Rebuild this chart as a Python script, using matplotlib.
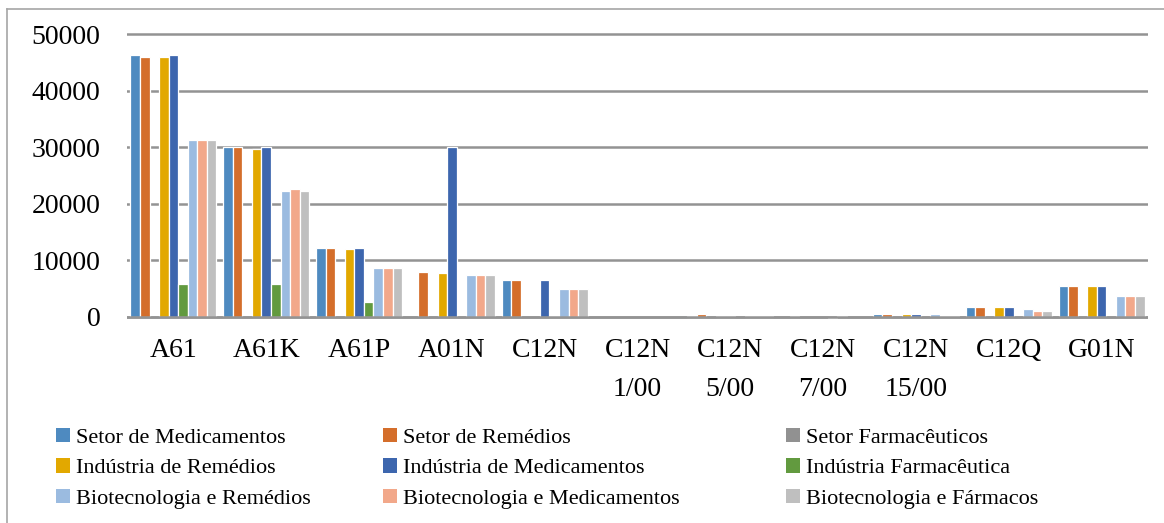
import numpy as np
import matplotlib
matplotlib.use("Agg")
import matplotlib.pyplot as plt
from matplotlib.patches import Patch
from matplotlib.lines import Line2D

categories = ["A61", "A61K", "A61P", "A01N", "C12N", "C12N\n1/00", "C12N\n5/00",
              "C12N\n7/00", "C12N\n15/00", "C12Q", "G01N"]

series_names = ["Setor de Medicamentos", "Setor de Remédios", "Setor Farmacêuticos",
                "Indústria de Remédios", "Indústria de Medicamentos", "Indústria Farmacêutica",
                "Biotecnologia e Remédios", "Biotecnologia e Medicamentos", "Biotecnologia e Fármacos"]

setor_medicamentos = [46300, 30000, 12200, 0, 6500, 0, 80, 0, 450, 1700, 5500]
setor_remedios = [45900, 30000, 12200, 8000, 6500, 0, 450, 80, 450, 1700, 5500]
setor_farmaceuticos = [0, 0, 0, 0, 0, 0, 0, 0, 0, 0, 0]
industria_remedios = [45900, 29700, 11900, 7700, 0, 0, 80, 0, 400, 1700, 5500]
industria_medicamentos = [46300, 30000, 12200, 30000, 6500, 0, 80, 0, 400, 1700, 5500]
industria_farmaceutica = [5800, 5800, 2600, 0, 80, 0, 0, -150, 0, 0, 0]
bio_remedios = [31300, 22300, 8700, 7400, 4900, 0, 80, 80, 500, 1350, 3700]
bio_medicamentos = [31300, 22600, 8700, 7400, 4900, 0, 80, 0, 80, 1000, 3700]
bio_farmacos = [31300, 22300, 8700, 7400, 4900, 0, 80, 0, 80, 1000, 3700]

series_values = [setor_medicamentos, setor_remedios, setor_farmaceuticos,
                 industria_remedios, industria_medicamentos, industria_farmaceutica,
                 bio_remedios, bio_medicamentos, bio_farmacos]

colors = ["#4E8AC0", "#D46E2B", "#919191", "#E2A800", "#3D66AE", "#629A3F",
          "#9BBBE0", "#F2A88A", "#BFBFBF"]

yticks = [0, 10000, 20000, 30000, 40000, 50000]

W, H = 1164, 523
fig = plt.figure(figsize=(W / 100, H / 100), dpi=100)
fig.patch.set_facecolor("white")

font = "Liberation Serif"

scale = 282.4 / 50000.0
ymin, ymax = -500, 50300
ax_bottom_px = 316.7 + (0 - ymin) * scale
ax_top_px = 34.3 - (ymax - 50000) * scale
ax = fig.add_axes([127 / W, 1 - ax_bottom_px / H, (1148 - 127) / W,
                   (ax_bottom_px - ax_top_px) / H])

x = np.arange(len(categories))
nser = len(series_values)
slot = 0.103
for k, (vals, col) in enumerate(zip(series_values, colors)):
    offs = (k - (nser - 1) / 2) * slot
    v = np.asarray(vals, dtype=float)
    keep = v != 0
    if keep.any():
        ax.bar(x[keep] + offs, v[keep], width=slot, color=col, edgecolor="white",
               linewidth=0.9, zorder=3)

ax.set_xlim(-0.5, len(categories) - 0.5)
ax.set_ylim(ymin, ymax)
ax.set_yticks(yticks)
ax.set_yticklabels([str(v) for v in yticks], fontfamily=font, fontsize=20)
ax.set_xticks(x)
ax.set_xticklabels(categories, fontfamily=font, fontsize=20, linespacing=1.75)
ax.tick_params(axis="both", length=0)
ax.tick_params(axis="y", pad=19)
ax.tick_params(axis="x", pad=13)
for s in ax.spines.values():
    s.set_visible(False)
ax.grid(axis="y", color="#939393", linewidth=1.8, zorder=0)
ax.set_axisbelow(True)
ax.axhline(0, color="#939393", linewidth=1.8, zorder=4)

# chart border (top and left visible)
fig.add_artist(Line2D([7 / W, 7 / W], [0, 1 - 9 / H], transform=fig.transFigure,
                      color="#A6A6A6", linewidth=1.2))
fig.add_artist(Line2D([7 / W, 1], [1 - 9 / H, 1 - 9 / H], transform=fig.transFigure,
                      color="#A6A6A6", linewidth=1.2))

# legend in three columns
col_x = [56, 383, 786]
for c in range(3):
    idx = [c, c + 3, c + 6]
    handles = [Patch(facecolor=colors[i], edgecolor="none") for i in idx]
    labels = [series_names[i] for i in idx]
    fig.legend(handles, labels, loc="upper left",
               bbox_to_anchor=(col_x[c] / W, 1 - 428 / H),
               frameon=False, ncol=1, borderpad=0, borderaxespad=0,
               handlelength=0.62, handleheight=0.62, handletextpad=0.3,
               labelspacing=0.47, prop={"family": font, "size": 16})

fig.savefig("out.png", dpi=100, facecolor="white")
